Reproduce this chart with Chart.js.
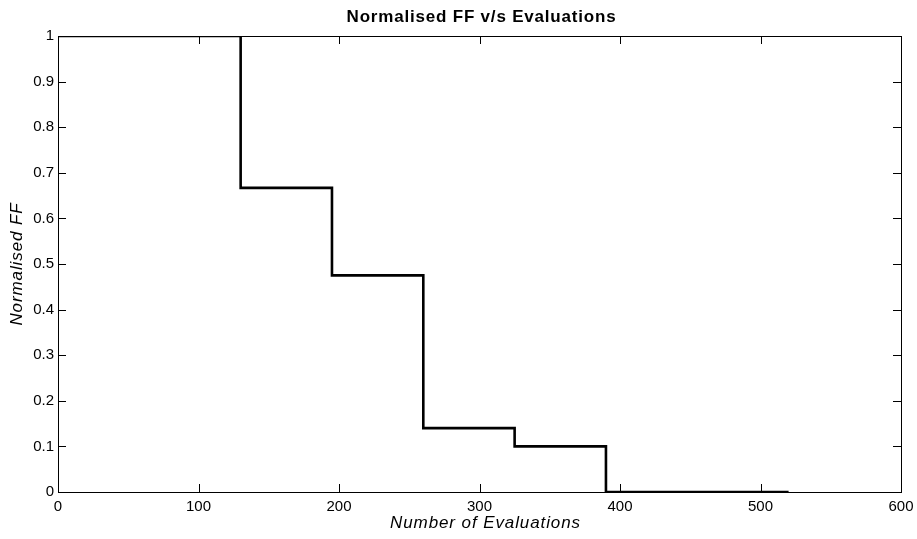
<!DOCTYPE html>
<html>
<head>
<meta charset="utf-8">
<script src="https://cdn.jsdelivr.net/npm/chart.js@4"></script>
<style>
html,body{margin:0;padding:0;background:#fff;}
#wrap{width:917px;height:539px;position:relative;}
</style>
</head>
<body>
<div id="wrap"><canvas id="c" width="917" height="539"></canvas></div>
<script>
// Data
const evaluations = [0, 130, 195, 260, 325, 390, 520];
const normalisedFF = [1, 0.667, 0.475, 0.14, 0.1, 0, 0];
const xTicks = [0, 100, 200, 300, 400, 500, 600];
const yTicks = [0, 0.1, 0.2, 0.3, 0.4, 0.5, 0.6, 0.7, 0.8, 0.9, 1];
const chartTitle = 'Normalised FF v/s Evaluations';
const xTitle = 'Number of Evaluations';
const yTitle = 'Normalised FF';

const FONT = '"Liberation Sans", Arial, Helvetica, sans-serif';

const points = evaluations.map((x, i) => ({x: x, y: normalisedFF[i]}));

const boxPlugin = {
  id: 'matlabBox',
  afterDraw(chart) {
    const ctx = chart.ctx;
    const a = chart.chartArea;
    const xs = chart.scales.x, ys = chart.scales.y;
    ctx.save();
    ctx.strokeStyle = '#000';
    ctx.lineWidth = 1;
    ctx.strokeRect(Math.round(a.left) + 0.5, Math.round(a.top) + 0.5,
                   Math.round(a.right) - Math.round(a.left), Math.round(a.bottom) - Math.round(a.top));
    const tl = 8;
    ctx.beginPath();
    xTicks.forEach(v => {
      const px = Math.round(xs.getPixelForValue(v)) + 0.5;
      ctx.moveTo(px, a.bottom); ctx.lineTo(px, a.bottom - tl);
      ctx.moveTo(px, a.top); ctx.lineTo(px, a.top + tl);
    });
    yTicks.forEach(v => {
      const py = Math.round(ys.getPixelForValue(v)) + 0.5;
      ctx.moveTo(a.left, py); ctx.lineTo(a.left + tl, py);
      ctx.moveTo(a.right, py); ctx.lineTo(a.right - tl, py);
    });
    ctx.stroke();
    ctx.fillStyle = '#000';
    ctx.textAlign = 'center';
    ctx.textBaseline = 'middle';
    const cx = (a.left + a.right) / 2;
    const cy = (a.top + a.bottom) / 2;
    // chart title
    ctx.font = 'bold 17px ' + FONT;
    ctx.letterSpacing = '0.8px';
    ctx.fillText(chartTitle, cx + 2, 17);
    // x axis title
    ctx.font = 'italic 17px ' + FONT;
    ctx.letterSpacing = '0.9px';
    ctx.fillText(xTitle, cx + 6, 523);
    // y axis title
    ctx.save();
    ctx.translate(17.5, cy);
    ctx.rotate(-Math.PI / 2);
    ctx.fillText(yTitle, 0, 0);
    ctx.restore();
    ctx.letterSpacing = '0px';
    ctx.restore();
  }
};

new Chart(document.getElementById('c'), {
  type: 'scatter',
  data: {
    datasets: [{
      data: points,
      showLine: true,
      stepped: 'before',
      borderColor: '#000',
      backgroundColor: '#000',
      borderWidth: 2.6,
      pointRadius: 0,
      fill: false
    }]
  },
  options: {
    responsive: false,
    animation: false,
    devicePixelRatio: 1,
    layout: {padding: {top: 36, right: 16, left: 0, bottom: 0}},
    plugins: {legend: {display: false}, tooltip: {enabled: false}, title: {display: false}},
    scales: {
      x: {
        type: 'linear', min: 0, max: 600,
        afterBuildTicks(s) { s.ticks = xTicks.map(v => ({value: v})); },
        afterFit(s) { s.height = 47; s.paddingLeft = 0; s.paddingRight = 0; },
        grid: {display: false, drawTicks: false},
        border: {display: false},
        ticks: {color: '#000', font: {family: FONT, size: 15}, padding: 6, maxRotation: 0, autoSkip: false}
      },
      y: {
        type: 'linear', min: 0, max: 1,
        afterBuildTicks(s) { s.ticks = yTicks.map(v => ({value: v})); },
        afterFit(s) { s.width = 58; s.paddingTop = 0; s.paddingBottom = 0; },
        grid: {display: false, drawTicks: false},
        border: {display: false},
        ticks: {color: '#000', font: {family: FONT, size: 15}, padding: 4, autoSkip: false,
          callback: v => String(Math.round(v * 10) / 10)}
      }
    }
  },
  plugins: [boxPlugin]
});
</script>
</body>
</html>
